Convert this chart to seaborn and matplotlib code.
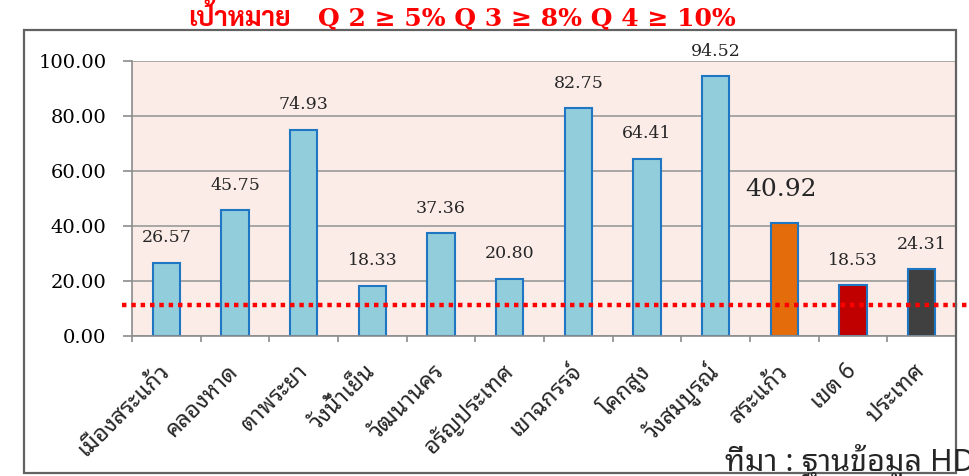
import matplotlib
matplotlib.use("Agg")
import matplotlib.pyplot as plt
from matplotlib.patches import Rectangle
import seaborn as sns
import pandas as pd

# Data
districts = ["เมืองสระแก้ว", "คลองหาด", "ตาพระยา", "วังน้ำเย็น", "วัฒนานคร",
             "อรัญประเทศ", "เขาฉกรรจ์", "โคกสูง", "วังสมบูรณ์", "สระแก้ว",
             "เขต 6", "ประเทศ"]
values = [26.57, 45.75, 74.93, 18.33, 37.36, 20.80, 82.75, 64.41, 94.52,
          40.92, 18.53, 24.31]
bar_colors = ["#92CDDC"] * 9 + ["#E46C0A", "#C00000", "#404040"]
target_level = 11.3
y_ticks = [0, 20, 40, 60, 80, 100]
title_thai = "เป้าหมาย"
title_goals = "Q 2 ≥ 5% Q 3 ≥ 8% Q 4 ≥ 10%"
source_text = "ที่มา : ฐานข้อมูล HDC"

df = pd.DataFrame({"district": districts, "value": values})

sns.set_style("ticks")
plt.rcParams["font.family"] = ["DejaVu Serif", "Noto Serif Thai"]
THAI = ["Noto Sans Thai Looped", "DejaVu Sans"]

W, H = 970, 476
fig = plt.figure(figsize=(W / 100, H / 100), dpi=100)
ax = fig.add_axes([132 / W, 1 - 336 / H, (956 - 132) / W, (336 - 61) / H])
ax.set_facecolor("#FBECE8")

sns.barplot(data=df, x="district", y="value", hue="district", order=districts,
            palette=bar_colors, legend=False, width=0.4,
            edgecolor="#1F77C4", linewidth=1.5, saturation=1, ax=ax)

ax.set_xlim(-0.5, len(districts) - 0.5)
ax.set_ylim(0, 100)
ax.set_xlabel("")
ax.set_ylabel("")

# Horizontal grid behind the bars
ax.set_axisbelow(True)
ax.yaxis.grid(True, color="#9A9A9A", linewidth=1.2)
ax.xaxis.grid(False)

# Y axis
ax.set_yticks(y_ticks)
ax.set_yticklabels([f"{t:.2f}" for t in y_ticks], fontsize=14)
ax.tick_params(axis="y", length=6.5, width=1.2, color="#8C8C8C", pad=12,
               labelcolor="black")

# X axis: labels at bar centres, tick marks at category boundaries
ax.set_xticks(range(len(districts)))
ax.set_xticklabels(districts, rotation=45, ha="right", va="center",
                   rotation_mode="anchor", family=THAI, fontsize=16.5)
ax.tick_params(axis="x", which="major", length=0, pad=23)
ax.set_xticks([i - 0.5 for i in range(len(districts) + 1)], minor=True)
ax.tick_params(axis="x", which="minor", length=4.5, width=1.2, color="#8C8C8C")

for side in ["top", "right"]:
    ax.spines[side].set_visible(False)
for side in ["left", "bottom"]:
    ax.spines[side].set_color("#8C8C8C")
    ax.spines[side].set_linewidth(1.2)

# Value labels
for i, v in enumerate(values):
    if districts[i] == "สระแก้ว":
        ax.annotate(f"{v:.2f}", (i, v), xytext=(-3, 34), textcoords="offset pixels",
                    ha="center", va="center", fontsize=18)
    else:
        ax.annotate(f"{v:.2f}", (i, v), xytext=(0, 25), textcoords="offset pixels",
                    ha="center", va="center", fontsize=12.5)

# Target line
ax.axhline(target_level, xmin=(122 - 132) / 824, xmax=(970 - 132) / 824,
           color="#FF0000", linewidth=3.2, linestyle=(0, (1, 1.1)),
           clip_on=False, zorder=5)

# Outer frame
fig.patches.append(Rectangle((24 / W, 1 - 473 / H), (956 - 24) / W, (473 - 30) / H,
                             transform=fig.transFigure, fill=False,
                             edgecolor="#626262", linewidth=1.6, zorder=0))

# Title: Thai heading plus quarterly goals
fig.text(188 / W, 1 - 19 / H, title_thai, ha="left", va="center",
         color="#FF0000", fontsize=19, fontweight="bold",
         family=["Sarabun", "DejaVu Sans"])
fig.text(318 / W, 1 - 19 / H, title_goals, ha="left", va="center",
         color="#FF0000", fontsize=18, fontweight="bold")

fig.text(725 / W, 1 - 472 / H, source_text, ha="left", va="baseline",
         family=THAI, fontsize=22)

fig.savefig("out.png", dpi=100)
